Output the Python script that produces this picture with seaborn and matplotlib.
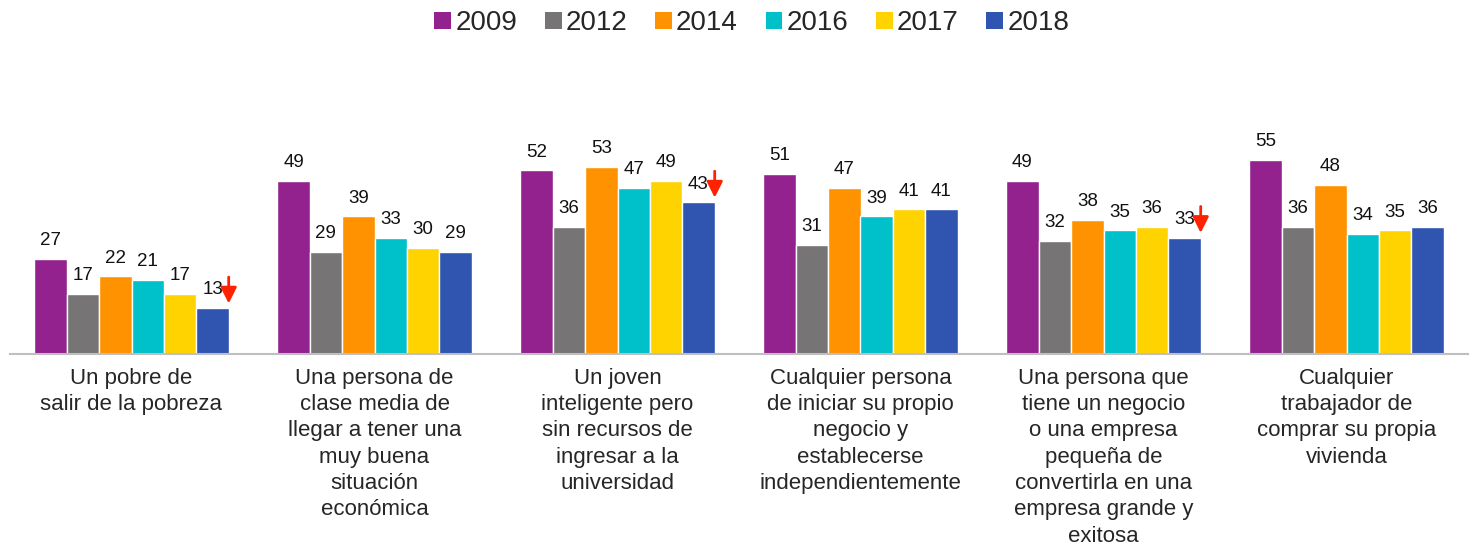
import pandas as pd
import matplotlib
matplotlib.use("Agg")
import matplotlib.pyplot as plt
import seaborn as sns
from matplotlib.patches import Patch

categories = [
    "Un pobre de\nsalir de la pobreza",
    "Una persona de\nclase media de\nllegar a tener una\nmuy buena\nsituación\neconómica",
    "Un joven\ninteligente pero\nsin recursos de\ningresar a la\nuniversidad",
    "Cualquier persona\nde iniciar su propio\nnegocio y\nestablecerse\nindependientemente",
    "Una persona que\ntiene un negocio\no una empresa\npequeña de\nconvertirla en una\nempresa grande y\nexitosa",
    "Cualquier\ntrabajador de\ncomprar su propia\nvivienda",
]
years = ["2009", "2012", "2014", "2016", "2017", "2018"]
v2009 = [27, 49, 52, 51, 49, 55]
v2012 = [17, 29, 36, 31, 32, 36]
v2014 = [22, 39, 53, 47, 38, 48]
v2016 = [21, 33, 47, 39, 35, 34]
v2017 = [17, 30, 49, 41, 36, 35]
v2018 = [13, 29, 43, 41, 33, 36]
# groups where the 2018 value has a red down arrow
arrow_groups = [0, 2, 4]

colors = ["#93228F", "#767474", "#FF9200", "#00C0C9", "#FFD300", "#2F55B0"]

series = [v2009, v2012, v2014, v2016, v2017, v2018]
rows = []
for y, vals in zip(years, series):
    for c, v in zip(categories, vals):
        rows.append({"cat": c, "year": y, "val": v})
df = pd.DataFrame(rows)

sns.set_style("white")
plt.rcParams["font.family"] = ["Liberation Sans", "DejaVu Sans"]

fig = plt.figure(figsize=(14.74, 5.45), dpi=100)
ax = fig.add_axes([10 / 1474, 191 / 545, 1458 / 1474, 294 / 545])

sns.barplot(data=df, x="cat", y="val", hue="year", palette=colors,
            width=0.8, saturation=1, ax=ax, legend=False, errorbar=None)

for cont in ax.containers:
    ax.bar_label(cont, fmt="%d", padding=7, fontsize=13.5, color="#111111")

# red arrows next to the 2018 labels
for g in arrow_groups:
    x = g + 0.4
    v = v2018[g]
    ax.annotate("", xy=(x, v + 1.3), xytext=(x, v + 8.8),
                arrowprops=dict(arrowstyle="-|>", color="#FF2200", lw=2,
                                mutation_scale=24, shrinkA=0, shrinkB=0))

ax.set_xlim(-0.5, 5.5)
ax.set_ylim(0, 83.3)
ax.set_xlabel("")
ax.set_ylabel("")
ax.set_yticks([])
ax.tick_params(axis="x", length=0, pad=10, labelsize=16)
ax.set_xticks(range(len(categories)))
ax.set_xticklabels(categories, fontsize=16, linespacing=1.33, va="top")
for s in ["top", "left", "right"]:
    ax.spines[s].set_visible(False)
ax.spines["bottom"].set_color("#BFBFBF")
ax.spines["bottom"].set_linewidth(1.5)

handles = [Patch(facecolor=c, edgecolor="none") for c in colors]
fig.legend(handles, years, loc="upper center", bbox_to_anchor=(0.51, 1.027),
           ncol=6, frameon=False, fontsize=20, handlelength=0.6,
           handleheight=0.6, handletextpad=0.15, columnspacing=1.0)

fig.savefig("out.png", dpi=100)
